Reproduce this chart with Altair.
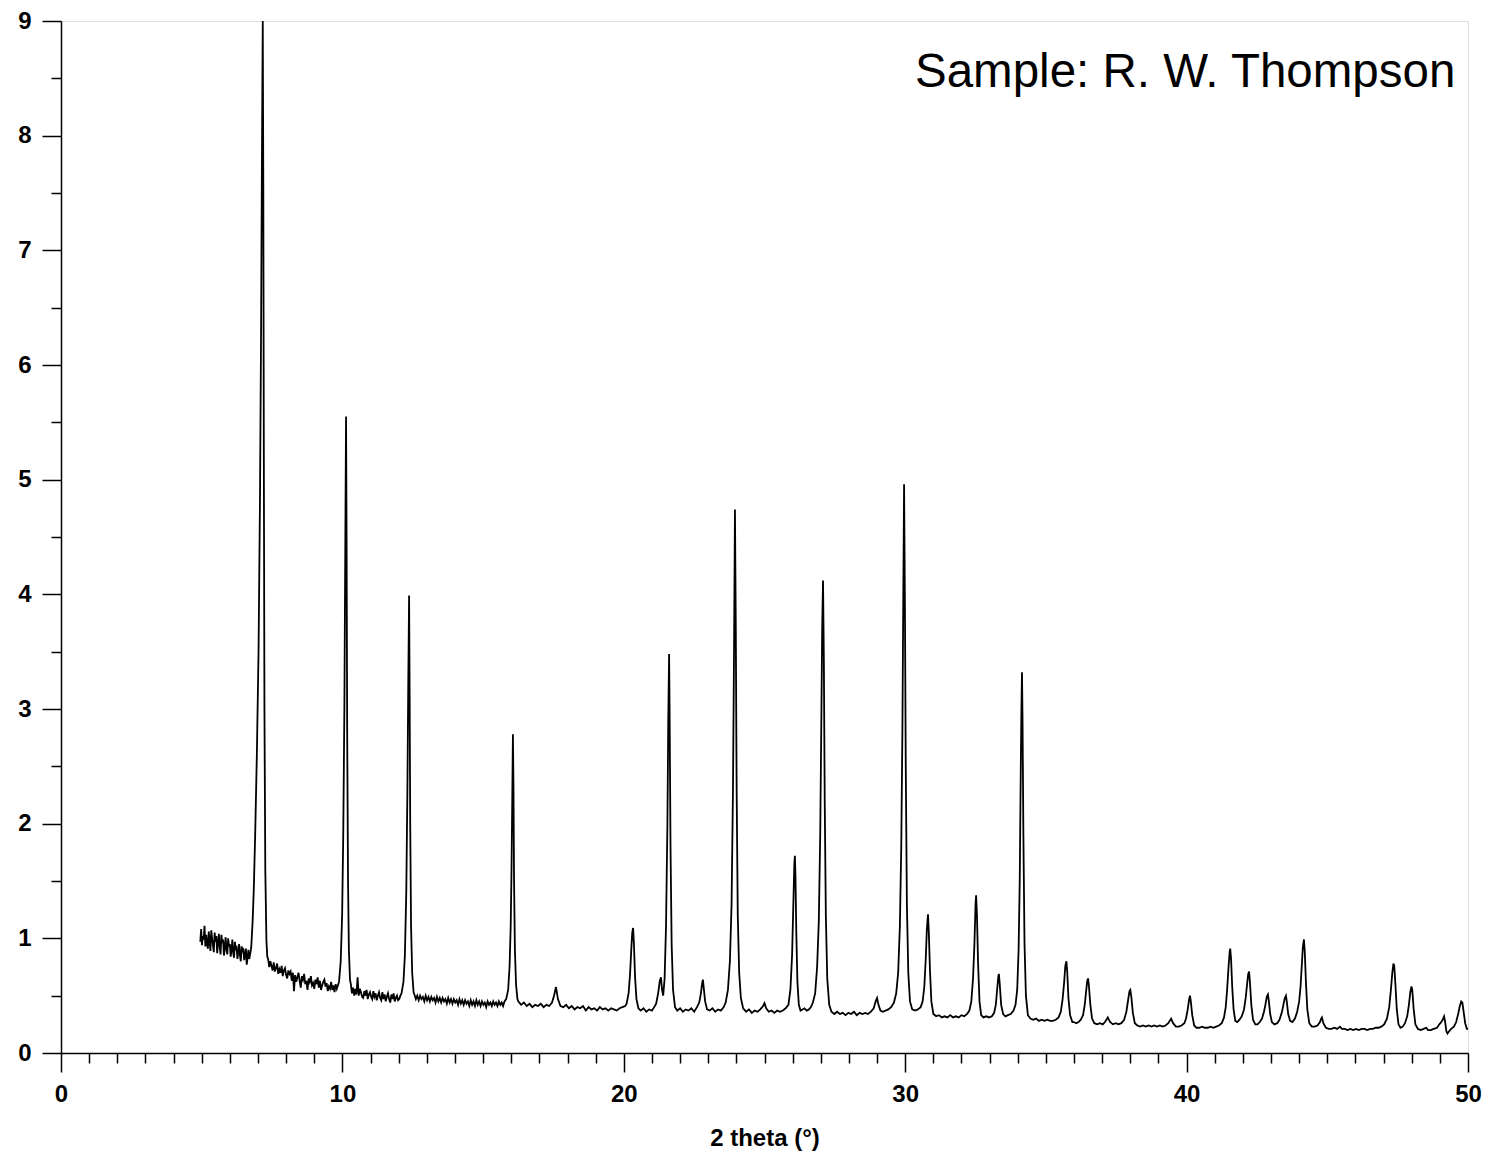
import altair as alt
import pandas as pd

# ---- trace: (2 theta, intensity) ----
trace_05_10 = [
    (4.95, 0.97), (4.98, 1.08), (5.01, 0.94), (5.04, 1.02), (5.07, 0.99), (5.10, 1.11), (5.13, 0.93),
    (5.16, 1.03), (5.19, 0.95), (5.22, 0.91), (5.25, 1.06), (5.28, 0.98), (5.31, 0.89), (5.34, 1.07),
    (5.37, 1.00), (5.40, 0.94), (5.43, 0.88), (5.46, 1.05), (5.49, 0.97), (5.52, 1.02), (5.55, 0.87),
    (5.58, 0.95), (5.61, 1.04), (5.64, 0.93), (5.67, 0.86), (5.70, 1.03), (5.73, 0.96), (5.76, 0.99),
    (5.79, 0.85), (5.82, 0.92), (5.85, 1.01), (5.88, 0.90), (5.91, 0.86), (5.94, 1.00), (5.97, 0.93),
    (6.00, 0.95), (6.03, 0.84), (6.06, 0.90), (6.09, 0.99), (6.12, 0.87), (6.15, 0.83), (6.18, 0.97),
    (6.21, 0.91), (6.24, 0.92), (6.27, 0.82), (6.30, 0.88), (6.33, 0.95), (6.36, 0.85), (6.39, 0.80),
    (6.42, 0.93), (6.45, 0.89), (6.48, 0.90), (6.51, 0.81), (6.54, 0.86), (6.57, 0.91), (6.60, 0.77),
    (6.63, 0.83), (6.66, 0.90), (6.69, 0.82), (6.72, 0.86),
    (6.76, 0.92), (6.81, 1.15), (6.85, 1.42), (6.90, 1.90), (6.96, 2.60), (7.02, 3.50), (7.07, 4.80),
    (7.11, 6.30), (7.14, 7.80), (7.17, 9.00), (7.19, 7.50), (7.21, 5.00), (7.23, 3.00), (7.26, 1.60),
    (7.30, 0.98), (7.33, 0.84),
    (7.36, 0.82), (7.40, 0.75), (7.44, 0.80), (7.48, 0.76), (7.52, 0.72), (7.56, 0.79), (7.60, 0.71),
    (7.64, 0.74), (7.68, 0.78), (7.72, 0.69), (7.76, 0.73), (7.80, 0.70), (7.84, 0.76), (7.88, 0.67),
    (7.92, 0.72), (7.96, 0.74), (8.00, 0.68), (8.04, 0.65), (8.08, 0.72), (8.12, 0.69), (8.16, 0.71),
    (8.20, 0.63), (8.24, 0.70), (8.28, 0.54), (8.32, 0.68), (8.36, 0.62), (8.40, 0.66), (8.44, 0.70),
    (8.48, 0.63), (8.52, 0.57), (8.56, 0.67), (8.60, 0.64), (8.64, 0.69), (8.68, 0.60), (8.72, 0.63),
    (8.76, 0.55), (8.80, 0.65), (8.84, 0.62), (8.88, 0.67), (8.92, 0.59), (8.96, 0.61), (9.00, 0.56),
    (9.04, 0.64), (9.08, 0.60), (9.12, 0.66), (9.16, 0.57), (9.20, 0.63), (9.24, 0.55), (9.28, 0.59),
    (9.32, 0.62), (9.36, 0.64), (9.40, 0.58), (9.44, 0.61), (9.48, 0.54), (9.52, 0.58), (9.56, 0.56),
    (9.60, 0.62), (9.64, 0.55), (9.68, 0.59), (9.72, 0.53), (9.76, 0.60), (9.80, 0.56), (9.84, 0.59),
]

trace_10_16 = [
    (9.88, 0.62), (9.94, 0.80), (9.99, 1.20), (10.03, 1.90), (10.07, 3.00), (10.10, 4.30), (10.13, 5.55),
    (10.15, 4.40), (10.17, 2.80), (10.20, 1.50), (10.23, 0.90), (10.27, 0.64),
    (10.30, 0.60), (10.34, 0.52), (10.38, 0.57), (10.42, 0.50), (10.46, 0.56), (10.50, 0.51), (10.54, 0.66),
    (10.58, 0.50), (10.62, 0.56), (10.66, 0.53), (10.70, 0.49), (10.74, 0.48), (10.78, 0.54), (10.82, 0.50),
    (10.86, 0.55), (10.90, 0.47), (10.94, 0.51), (10.98, 0.53), (11.02, 0.49), (11.06, 0.47), (11.10, 0.54),
    (11.14, 0.49), (11.18, 0.52), (11.22, 0.46), (11.26, 0.50), (11.30, 0.53), (11.34, 0.48), (11.38, 0.46),
    (11.42, 0.53), (11.46, 0.47), (11.50, 0.51), (11.54, 0.45), (11.58, 0.49), (11.62, 0.52), (11.66, 0.47),
    (11.70, 0.44), (11.74, 0.51), (11.78, 0.47), (11.82, 0.52), (11.86, 0.45), (11.90, 0.48), (11.94, 0.50),
    (11.98, 0.46), (12.02, 0.47), (12.06, 0.50),
    (12.10, 0.52), (12.17, 0.62), (12.22, 0.85), (12.27, 1.40), (12.31, 2.30), (12.34, 3.20), (12.37, 3.99),
    (12.39, 3.10), (12.41, 2.00), (12.44, 1.10), (12.48, 0.70), (12.53, 0.53),
    (12.56, 0.51), (12.61, 0.47), (12.66, 0.50), (12.71, 0.46), (12.76, 0.50), (12.81, 0.47), (12.86, 0.49),
    (12.91, 0.45), (12.96, 0.50), (13.01, 0.46), (13.06, 0.49), (13.11, 0.45), (13.16, 0.49), (13.21, 0.46),
    (13.26, 0.48), (13.31, 0.44), (13.36, 0.49), (13.41, 0.45), (13.46, 0.48), (13.51, 0.44), (13.56, 0.48),
    (13.61, 0.45), (13.66, 0.47), (13.71, 0.43), (13.76, 0.48), (13.81, 0.44), (13.86, 0.47), (13.91, 0.43),
    (13.96, 0.47), (14.01, 0.44), (14.06, 0.46), (14.11, 0.42), (14.16, 0.47), (14.21, 0.43), (14.26, 0.46),
    (14.31, 0.42), (14.36, 0.46), (14.41, 0.43), (14.46, 0.45), (14.51, 0.41), (14.56, 0.46), (14.61, 0.42),
    (14.66, 0.45), (14.71, 0.41), (14.76, 0.46), (14.81, 0.42), (14.86, 0.45), (14.91, 0.41), (14.96, 0.45),
    (15.01, 0.42), (15.06, 0.44), (15.11, 0.40), (15.16, 0.45), (15.21, 0.42), (15.26, 0.44), (15.31, 0.41),
    (15.36, 0.45), (15.41, 0.42), (15.46, 0.44), (15.51, 0.41), (15.56, 0.45), (15.61, 0.42), (15.66, 0.44),
    (15.71, 0.41), (15.76, 0.45),
    (15.82, 0.47), (15.89, 0.55), (15.94, 0.75), (15.98, 1.10), (16.01, 1.60), (16.04, 2.30), (16.06, 2.78),
    (16.08, 2.30), (16.10, 1.50), (16.13, 0.90), (16.17, 0.60), (16.22, 0.47),
]

trace_16_24 = [
    (16.25, 0.45), (16.35, 0.42), (16.45, 0.44), (16.55, 0.41), (16.65, 0.43), (16.75, 0.40), (16.85, 0.42),
    (16.95, 0.41), (17.05, 0.43), (17.15, 0.40), (17.25, 0.42), (17.35, 0.41), (17.45, 0.44), (17.52, 0.50),
    (17.59, 0.575), (17.66, 0.47), (17.75, 0.41), (17.85, 0.40), (17.95, 0.42), (18.05, 0.39), (18.15, 0.41),
    (18.25, 0.38), (18.35, 0.40), (18.45, 0.39), (18.55, 0.41), (18.65, 0.37), (18.75, 0.40), (18.85, 0.38),
    (18.95, 0.39), (19.05, 0.37), (19.15, 0.40), (19.25, 0.38), (19.35, 0.39), (19.45, 0.37), (19.55, 0.39),
    (19.65, 0.38), (19.75, 0.37), (19.85, 0.39), (19.95, 0.40), (20.05, 0.41),
    (20.10, 0.43), (20.17, 0.52), (20.22, 0.68), (20.27, 0.92), (20.30, 1.05), (20.33, 1.09), (20.36, 0.95),
    (20.40, 0.66), (20.45, 0.47), (20.52, 0.39),
    (20.60, 0.37), (20.70, 0.39), (20.80, 0.36), (20.90, 0.38), (21.00, 0.37), (21.08, 0.40),
    (21.15, 0.43), (21.22, 0.52), (21.28, 0.63), (21.32, 0.66), (21.36, 0.55), (21.40, 0.50), (21.45, 0.65),
    (21.50, 1.10), (21.55, 2.00), (21.58, 2.90), (21.61, 3.48), (21.63, 2.90), (21.66, 1.80), (21.70, 0.95),
    (21.75, 0.55), (21.82, 0.40),
    (21.90, 0.37), (22.00, 0.39), (22.10, 0.36), (22.20, 0.38), (22.30, 0.37), (22.40, 0.39), (22.50, 0.36),
    (22.60, 0.40),
    (22.68, 0.44), (22.74, 0.52), (22.78, 0.60), (22.81, 0.64), (22.84, 0.57), (22.89, 0.45), (22.96, 0.38),
    (23.05, 0.37), (23.15, 0.39), (23.25, 0.36), (23.35, 0.38), (23.45, 0.37), (23.55, 0.40),
    (23.62, 0.44), (23.70, 0.55), (23.77, 0.80), (23.83, 1.30), (23.88, 2.30), (23.92, 3.60), (23.95, 4.74),
    (23.98, 3.70), (24.01, 2.30), (24.05, 1.20), (24.10, 0.70), (24.16, 0.48), (24.24, 0.39),
]

trace_24_31 = [
    (24.35, 0.36), (24.45, 0.38), (24.55, 0.35), (24.65, 0.37), (24.75, 0.36), (24.85, 0.38), (24.95, 0.41),
    (25.00, 0.435), (25.06, 0.39), (25.15, 0.36), (25.25, 0.37), (25.35, 0.35), (25.45, 0.37), (25.55, 0.36),
    (25.65, 0.37), (25.75, 0.39),
    (25.85, 0.42), (25.92, 0.55), (25.98, 0.85), (26.03, 1.35), (26.06, 1.65), (26.08, 1.72), (26.10, 1.55),
    (26.13, 1.05), (26.17, 0.62), (26.22, 0.42), (26.28, 0.37),
    (26.35, 0.38), (26.42, 0.39), (26.50, 0.37), (26.58, 0.38), (26.65, 0.40), (26.72, 0.44),
    (26.80, 0.52), (26.87, 0.75), (26.93, 1.15), (26.98, 1.90), (27.02, 2.90), (27.05, 3.70), (27.08, 4.12),
    (27.11, 3.40), (27.14, 2.20), (27.18, 1.20), (27.23, 0.65), (27.30, 0.42), (27.38, 0.36),
    (27.48, 0.34), (27.58, 0.36), (27.68, 0.34), (27.78, 0.35), (27.88, 0.33), (27.98, 0.35), (28.08, 0.34),
    (28.18, 0.36), (28.28, 0.33), (28.38, 0.35), (28.48, 0.34), (28.58, 0.35), (28.68, 0.34), (28.78, 0.36),
    (28.88, 0.39), (28.95, 0.45), (29.00, 0.48), (29.05, 0.42), (29.12, 0.37),
    (29.20, 0.36), (29.30, 0.37), (29.40, 0.38), (29.50, 0.40), (29.60, 0.44), (29.68, 0.52), (29.75, 0.70),
    (29.81, 1.10), (29.86, 1.80), (29.90, 2.80), (29.93, 3.90), (29.96, 4.96), (29.99, 3.90), (30.02, 2.50),
    (30.06, 1.30), (30.11, 0.70), (30.17, 0.45), (30.25, 0.38),
    (30.35, 0.37), (30.45, 0.38), (30.55, 0.40),
    (30.62, 0.45), (30.68, 0.58), (30.73, 0.82), (30.77, 1.08), (30.81, 1.21), (30.84, 1.05), (30.88, 0.72),
    (30.93, 0.45), (31.00, 0.34),
]

trace_31_38 = [
    (31.10, 0.32), (31.20, 0.33), (31.30, 0.31), (31.40, 0.32), (31.50, 0.31), (31.60, 0.33), (31.70, 0.31),
    (31.80, 0.32), (31.90, 0.31), (32.00, 0.33), (32.10, 0.32), (32.20, 0.34),
    (32.28, 0.37), (32.35, 0.45), (32.41, 0.65), (32.46, 0.95), (32.50, 1.30), (32.52, 1.375), (32.55, 1.20),
    (32.59, 0.78), (32.64, 0.45), (32.70, 0.33), (32.78, 0.31),
    (32.88, 0.32), (32.98, 0.31), (33.08, 0.32), (33.16, 0.35),
    (33.22, 0.42), (33.27, 0.56), (33.31, 0.67), (33.33, 0.69), (33.36, 0.60), (33.41, 0.42), (33.48, 0.34),
    (33.56, 0.32),
    (33.65, 0.33), (33.75, 0.34), (33.85, 0.37), (33.92, 0.42),
    (33.98, 0.55), (34.03, 0.90), (34.07, 1.50), (34.10, 2.30), (34.13, 3.00), (34.15, 3.32), (34.17, 2.90),
    (34.20, 1.90), (34.24, 0.95), (34.29, 0.50), (34.36, 0.33), (34.45, 0.30),
    (34.55, 0.29), (34.65, 0.30), (34.75, 0.28), (34.85, 0.29), (34.95, 0.28), (35.05, 0.29), (35.15, 0.28),
    (35.25, 0.28), (35.35, 0.29), (35.45, 0.31),
    (35.53, 0.36), (35.59, 0.46), (35.65, 0.62), (35.69, 0.76), (35.73, 0.80), (35.76, 0.70), (35.80, 0.48),
    (35.86, 0.33), (35.94, 0.27),
    (36.00, 0.27), (36.08, 0.26), (36.16, 0.27), (36.24, 0.29), (36.32, 0.33),
    (36.38, 0.42), (36.43, 0.54), (36.47, 0.63), (36.50, 0.65), (36.53, 0.58), (36.58, 0.42), (36.64, 0.30),
    (36.72, 0.26),
    (36.82, 0.25), (36.92, 0.26), (37.02, 0.25), (37.10, 0.27), (37.20, 0.31), (37.28, 0.27), (37.38, 0.25),
    (37.48, 0.26), (37.58, 0.25), (37.68, 0.26), (37.78, 0.29),
    (37.86, 0.36), (37.92, 0.46), (37.97, 0.54), (38.00, 0.55), (38.04, 0.48), (38.09, 0.35), (38.16, 0.26),
    (38.25, 0.24),
]

trace_38_44 = [
    (38.35, 0.23), (38.45, 0.24), (38.55, 0.23), (38.65, 0.24), (38.75, 0.23), (38.85, 0.24), (38.95, 0.23),
    (39.05, 0.24), (39.15, 0.23), (39.25, 0.24), (39.35, 0.26), (39.45, 0.30), (39.52, 0.26), (39.62, 0.23),
    (39.72, 0.23), (39.82, 0.24), (39.92, 0.26), (39.98, 0.30),
    (40.04, 0.38), (40.09, 0.47), (40.12, 0.50), (40.15, 0.45), (40.20, 0.33), (40.27, 0.24), (40.35, 0.22),
    (40.45, 0.22), (40.55, 0.23), (40.65, 0.22), (40.75, 0.22), (40.85, 0.23), (40.95, 0.22), (41.05, 0.23),
    (41.15, 0.24), (41.25, 0.26), (41.33, 0.31),
    (41.39, 0.40), (41.44, 0.55), (41.49, 0.75), (41.53, 0.88), (41.55, 0.91), (41.58, 0.82), (41.62, 0.58),
    (41.67, 0.38), (41.73, 0.28), (41.80, 0.27), (41.88, 0.29), (41.96, 0.32), (42.04, 0.38),
    (42.10, 0.48), (42.15, 0.60), (42.19, 0.69), (42.22, 0.71), (42.25, 0.62), (42.30, 0.42), (42.36, 0.29),
    (42.44, 0.25), (42.52, 0.25), (42.60, 0.27), (42.68, 0.30), (42.75, 0.36),
    (42.80, 0.42), (42.85, 0.49), (42.89, 0.51), (42.92, 0.46), (42.97, 0.34), (43.03, 0.27), (43.12, 0.25),
    (43.22, 0.26), (43.30, 0.29), (43.38, 0.35),
    (43.44, 0.42), (43.49, 0.48), (43.53, 0.50), (43.56, 0.45), (43.61, 0.34), (43.68, 0.28), (43.76, 0.27),
    (43.85, 0.30), (43.93, 0.36), (44.00, 0.45),
    (44.05, 0.58), (44.09, 0.75), (44.13, 0.92), (44.17, 0.99), (44.20, 0.88), (44.24, 0.62), (44.29, 0.38),
    (44.36, 0.26),
]

trace_44_50 = [
    (44.45, 0.23), (44.55, 0.23), (44.65, 0.24), (44.74, 0.27), (44.78, 0.30), (44.81, 0.31), (44.86, 0.26),
    (44.95, 0.22), (45.05, 0.21), (45.15, 0.21), (45.25, 0.22), (45.35, 0.21), (45.45, 0.23), (45.52, 0.21),
    (45.62, 0.21), (45.72, 0.20), (45.82, 0.21), (45.92, 0.20), (46.02, 0.21), (46.12, 0.20), (46.22, 0.21),
    (46.32, 0.21), (46.42, 0.20), (46.52, 0.21), (46.62, 0.21), (46.72, 0.22), (46.82, 0.22), (46.92, 0.23),
    (47.02, 0.25), (47.12, 0.30),
    (47.20, 0.40), (47.26, 0.55), (47.31, 0.70), (47.35, 0.78), (47.38, 0.76), (47.42, 0.60), (47.47, 0.38),
    (47.53, 0.25), (47.60, 0.22), (47.68, 0.23), (47.76, 0.26), (47.84, 0.32),
    (47.90, 0.42), (47.95, 0.53), (47.99, 0.58), (48.02, 0.55), (48.07, 0.38), (48.13, 0.25), (48.22, 0.21),
    (48.32, 0.20), (48.42, 0.21), (48.52, 0.22), (48.58, 0.20), (48.68, 0.20), (48.78, 0.21), (48.90, 0.22),
    (48.98, 0.25), (49.05, 0.27), (49.10, 0.29), (49.15, 0.32), (49.19, 0.27), (49.23, 0.19), (49.27, 0.17),
    (49.33, 0.19), (49.40, 0.21), (49.50, 0.23), (49.58, 0.27), (49.65, 0.34), (49.71, 0.41), (49.76, 0.45),
    (49.80, 0.44), (49.85, 0.35), (49.90, 0.26), (49.96, 0.21), (50.00, 0.21),
]

x_tick_values = list(range(0, 51))
y_tick_values = [0, 0.5, 1, 1.5, 2, 2.5, 3, 3.5, 4, 4.5, 5, 5.5, 6, 6.5, 7, 7.5, 8, 8.5, 9]
x_title = "2 theta (°)"
sample_label = "Sample: R. W. Thompson"

rows = []
for seg in [trace_05_10, trace_10_16, trace_16_24, trace_24_31, trace_31_38, trace_38_44, trace_44_50]:
    rows.extend(seg)
df = pd.DataFrame(rows, columns=["two_theta", "intensity"])

FONT = "Liberation Sans"

x_axis = alt.Axis(
    values=x_tick_values,
    labelExpr="datum.value % 10 === 0 ? format(datum.value, 'd') : ''",
    tickSize={"condition": {"test": "datum.value % 10 === 0", "value": 19}, "value": 10},
    labelPadding=10,
    labelFont=FONT, labelFontWeight="bold", labelFontSize=24, labelColor="black",
    labelFlush=False, labelOverlap=False,
    tickColor="black", tickWidth=1.5, domainColor="black", domainWidth=1.5,
    grid=False,
    title=x_title, titleFont=FONT, titleFontSize=24, titleFontWeight="bold", titleColor="black",
    titlePadding=20,
)
y_axis = alt.Axis(
    values=y_tick_values,
    labelExpr="datum.value % 1 === 0 ? format(datum.value, 'd') : ''",
    tickSize={"condition": {"test": "datum.value % 1 === 0", "value": 19}, "value": 10},
    labelPadding=11,
    labelFont=FONT, labelFontWeight="bold", labelFontSize=24, labelColor="black",
    labelFlush=False, labelOverlap=False,
    tickColor="black", tickWidth=1.5, domainColor="black", domainWidth=1.5,
    grid=False, title=None,
)

line = alt.Chart(df).mark_line(color="black", strokeWidth=1.8).encode(
    x=alt.X("two_theta:Q", scale=alt.Scale(domain=[0, 50], nice=False, zero=False), axis=x_axis),
    y=alt.Y("intensity:Q", scale=alt.Scale(domain=[0, 9], nice=False), axis=y_axis),
    order="two_theta:Q",
)

label = alt.Chart(pd.DataFrame({"t": [sample_label]})).mark_text(
    font=FONT, fontSize=47.5, color="black", align="left", baseline="alphabetic"
).encode(text="t:N", x=alt.value(854), y=alt.value(66))

chart = alt.layer(line, label).properties(
    width=1407, height=1032,
    autosize=alt.AutoSizeParams(type="none"),
    padding={"left": 53, "top": 13, "right": 20, "bottom": 100},
).configure_view(stroke=None).configure(background="white")

chart.save("out.html", embed_options={"renderer": "svg", "actions": False})
